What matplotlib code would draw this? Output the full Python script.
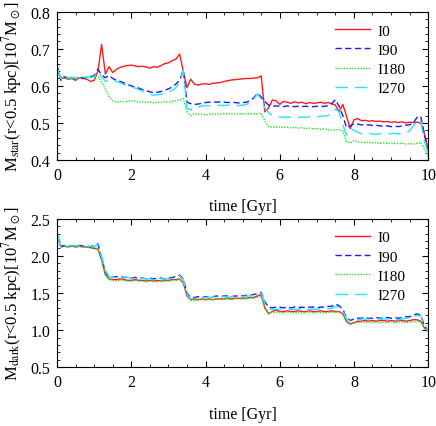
import numpy as np
import matplotlib
matplotlib.use("Agg")
import matplotlib.pyplot as plt
from matplotlib.ticker import MultipleLocator, FormatStrFormatter

plt.rcParams['font.family'] = ['Liberation Serif', 'DejaVu Serif']
plt.rcParams['mathtext.fontset'] = 'stix'

# sampling grid (Gyr), 0.1 Gyr steps
time_gyr = np.linspace(0.0, 10.0, 101)
labels = ['I0', 'I90', 'I180', 'I270']

# stellar mass within 0.5 kpc [1e7 Msun]
mstar_i0 = [
    0.650, 0.620, 0.622, 0.618, 0.620, 0.615, 0.622, 0.620, 0.618, 0.612,
    0.615, 0.640, 0.712, 0.632, 0.652, 0.636, 0.645, 0.650, 0.653, 0.655,
    0.656, 0.654, 0.652, 0.653, 0.651, 0.648, 0.652, 0.650, 0.655, 0.660,
    0.662, 0.668, 0.672, 0.686, 0.640, 0.595, 0.618, 0.605, 0.602, 0.605,
    0.606, 0.604, 0.607, 0.608, 0.609, 0.612, 0.614, 0.616, 0.617, 0.618,
    0.619, 0.620, 0.620, 0.621, 0.622, 0.627, 0.530, 0.540, 0.562, 0.560,
    0.550, 0.558, 0.556, 0.553, 0.557, 0.554, 0.556, 0.552, 0.555, 0.553,
    0.554, 0.556, 0.553, 0.555, 0.552, 0.548, 0.530, 0.550, 0.518, 0.485,
    0.508, 0.512, 0.506, 0.507, 0.505, 0.506, 0.504, 0.505, 0.503, 0.504,
    0.502, 0.503, 0.501, 0.503, 0.500, 0.502, 0.501, 0.502, 0.500, 0.470,
    0.430]
mstar_i90 = [
    0.655, 0.615, 0.625, 0.620, 0.622, 0.618, 0.625, 0.620, 0.623, 0.625,
    0.628, 0.645, 0.630, 0.622, 0.628, 0.620, 0.615, 0.612, 0.608, 0.604,
    0.600, 0.597, 0.594, 0.590, 0.587, 0.584, 0.582, 0.583, 0.585, 0.588,
    0.592, 0.597, 0.605, 0.615, 0.642, 0.556, 0.552, 0.550, 0.551, 0.553,
    0.555, 0.556, 0.557, 0.556, 0.557, 0.556, 0.555, 0.556, 0.555, 0.554,
    0.555, 0.556, 0.560, 0.568, 0.580, 0.570, 0.558, 0.548, 0.545, 0.546,
    0.545, 0.544, 0.546, 0.545, 0.544, 0.545, 0.544, 0.545, 0.544, 0.544,
    0.545, 0.544, 0.545, 0.546, 0.552, 0.563, 0.545, 0.520, 0.487, 0.492,
    0.498, 0.497, 0.495, 0.494, 0.495, 0.493, 0.494, 0.492, 0.491, 0.492,
    0.490, 0.491, 0.490, 0.492, 0.494, 0.495, 0.500, 0.515, 0.518, 0.470,
    0.420]
mstar_i180 = [
    0.630, 0.620, 0.626, 0.622, 0.620, 0.624, 0.621, 0.625, 0.622, 0.626,
    0.625, 0.625, 0.610, 0.592, 0.572, 0.560, 0.556, 0.558, 0.557, 0.558,
    0.560, 0.559, 0.556, 0.558, 0.555, 0.557, 0.554, 0.556, 0.555, 0.557,
    0.556, 0.558, 0.560, 0.562, 0.566, 0.530, 0.520, 0.525, 0.523, 0.524,
    0.522, 0.523, 0.524, 0.523, 0.524, 0.525, 0.524, 0.525, 0.524, 0.524,
    0.525, 0.524, 0.525, 0.524, 0.525, 0.526, 0.505, 0.490, 0.488, 0.489,
    0.489, 0.488, 0.489, 0.487, 0.488, 0.486, 0.487, 0.485, 0.486, 0.484,
    0.485, 0.483, 0.484, 0.482, 0.480, 0.481, 0.482, 0.478, 0.450, 0.446,
    0.452, 0.449, 0.448, 0.447, 0.448, 0.446, 0.447, 0.445, 0.446, 0.445,
    0.444, 0.445, 0.444, 0.445, 0.443, 0.444, 0.443, 0.445, 0.448, 0.430,
    0.410]
mstar_i270 = [
    0.650, 0.620, 0.628, 0.620, 0.624, 0.619, 0.622, 0.620, 0.624, 0.622,
    0.625, 0.640, 0.625, 0.612, 0.618, 0.616, 0.612, 0.608, 0.604, 0.600,
    0.598, 0.594, 0.590, 0.586, 0.582, 0.578, 0.575, 0.576, 0.578, 0.580,
    0.583, 0.588, 0.595, 0.610, 0.642, 0.540, 0.535, 0.545, 0.543, 0.546,
    0.547, 0.546, 0.548, 0.547, 0.548, 0.547, 0.548, 0.547, 0.548, 0.547,
    0.548, 0.550, 0.555, 0.565, 0.578, 0.565, 0.540, 0.528, 0.520, 0.517,
    0.516, 0.515, 0.516, 0.515, 0.516, 0.515, 0.516, 0.515, 0.517, 0.518,
    0.517, 0.518, 0.519, 0.520, 0.527, 0.537, 0.530, 0.495, 0.467, 0.486,
    0.480, 0.475, 0.471, 0.470, 0.472, 0.470, 0.469, 0.471, 0.470, 0.470,
    0.471, 0.472, 0.470, 0.472, 0.473, 0.478, 0.492, 0.508, 0.505, 0.450,
    0.420]

# dark matter mass within 0.5 kpc [1e7 Msun]
mdark_i0 = [
    2.28, 2.12, 2.13, 2.12, 2.13, 2.12, 2.13, 2.12, 2.12, 2.11,
    2.10, 2.09, 1.95, 1.75, 1.69, 1.68, 1.68, 1.69, 1.68, 1.67,
    1.67, 1.68, 1.67, 1.67, 1.66, 1.67, 1.66, 1.67, 1.66, 1.67,
    1.67, 1.68, 1.68, 1.69, 1.64, 1.46, 1.41, 1.42, 1.41, 1.42,
    1.41, 1.42, 1.41, 1.42, 1.42, 1.42, 1.43, 1.42, 1.43, 1.43,
    1.43, 1.43, 1.44, 1.44, 1.46, 1.48, 1.30, 1.22, 1.25, 1.27,
    1.25, 1.25, 1.26, 1.25, 1.25, 1.26, 1.25, 1.25, 1.26, 1.25,
    1.25, 1.26, 1.25, 1.25, 1.26, 1.25, 1.25, 1.22, 1.12, 1.08,
    1.10, 1.12, 1.12, 1.13, 1.12, 1.13, 1.12, 1.13, 1.13, 1.12,
    1.13, 1.12, 1.13, 1.13, 1.12, 1.13, 1.14, 1.14, 1.12, 1.03,
    0.99]
mdark_i90 = [
    2.28, 2.13, 2.14, 2.13, 2.14, 2.13, 2.14, 2.13, 2.13, 2.12,
    2.14, 2.16, 1.97, 1.78, 1.72, 1.71, 1.72, 1.72, 1.71, 1.71,
    1.70, 1.71, 1.70, 1.70, 1.69, 1.70, 1.69, 1.70, 1.70, 1.69,
    1.70, 1.71, 1.72, 1.74, 1.69, 1.50, 1.44, 1.44, 1.45, 1.44,
    1.45, 1.44, 1.45, 1.46, 1.45, 1.46, 1.46, 1.45, 1.46, 1.46,
    1.46, 1.47, 1.47, 1.48, 1.49, 1.51, 1.38, 1.31, 1.30, 1.31,
    1.31, 1.30, 1.31, 1.30, 1.31, 1.30, 1.31, 1.30, 1.31, 1.31,
    1.30, 1.31, 1.31, 1.32, 1.32, 1.35, 1.33, 1.28, 1.17, 1.13,
    1.15, 1.16, 1.16, 1.17, 1.16, 1.16, 1.17, 1.16, 1.16, 1.17,
    1.16, 1.17, 1.16, 1.17, 1.18, 1.18, 1.20, 1.22, 1.20, 1.06,
    0.99]
mdark_i180 = [
    2.26, 2.12, 2.13, 2.12, 2.13, 2.12, 2.12, 2.13, 2.12, 2.11,
    2.11, 2.10, 1.93, 1.74, 1.68, 1.67, 1.66, 1.67, 1.67, 1.66,
    1.66, 1.67, 1.66, 1.66, 1.65, 1.66, 1.66, 1.65, 1.66, 1.66,
    1.66, 1.67, 1.67, 1.68, 1.64, 1.47, 1.40, 1.40, 1.41, 1.41,
    1.41, 1.41, 1.41, 1.42, 1.41, 1.42, 1.42, 1.41, 1.42, 1.42,
    1.42, 1.42, 1.43, 1.43, 1.44, 1.45, 1.29, 1.23, 1.24, 1.24,
    1.24, 1.23, 1.24, 1.24, 1.23, 1.24, 1.23, 1.24, 1.24, 1.23,
    1.24, 1.24, 1.23, 1.24, 1.24, 1.24, 1.25, 1.21, 1.10, 1.09,
    1.10, 1.10, 1.11, 1.10, 1.11, 1.10, 1.11, 1.10, 1.11, 1.10,
    1.11, 1.10, 1.11, 1.11, 1.10, 1.11, 1.11, 1.12, 1.11, 1.02,
    0.98]
mdark_i270 = [
    2.29, 2.13, 2.14, 2.13, 2.14, 2.14, 2.13, 2.14, 2.13, 2.13,
    2.13, 2.15, 1.99, 1.80, 1.72, 1.71, 1.71, 1.72, 1.70, 1.71,
    1.70, 1.70, 1.69, 1.70, 1.69, 1.69, 1.68, 1.69, 1.69, 1.69,
    1.69, 1.70, 1.71, 1.73, 1.68, 1.49, 1.42, 1.43, 1.43, 1.44,
    1.44, 1.44, 1.45, 1.44, 1.45, 1.45, 1.44, 1.45, 1.45, 1.45,
    1.45, 1.46, 1.46, 1.47, 1.48, 1.50, 1.36, 1.29, 1.28, 1.28,
    1.28, 1.29, 1.28, 1.28, 1.28, 1.28, 1.29, 1.28, 1.28, 1.28,
    1.28, 1.29, 1.28, 1.29, 1.29, 1.32, 1.31, 1.27, 1.15, 1.12,
    1.13, 1.14, 1.15, 1.15, 1.15, 1.14, 1.15, 1.15, 1.15, 1.15,
    1.15, 1.15, 1.14, 1.15, 1.16, 1.16, 1.18, 1.20, 1.19, 1.04,
    0.99]

styles = [
    dict(color='#ff1a1a', linestyle='-'),
    dict(color='#1a1aff', linestyle=(0, (4.5, 2.5))),
    dict(color='#22e622', linestyle=(0, (1, 1))),
    dict(color='#22e6ff', linestyle=(0, (9, 5))),
]


def style_axis(ax, ylim, ymajor, yminor):
    ax.set_xlim(0, 10)
    ax.set_ylim(*ylim)
    ax.xaxis.set_major_locator(MultipleLocator(2))
    ax.xaxis.set_minor_locator(MultipleLocator(0.5))
    ax.yaxis.set_major_locator(MultipleLocator(ymajor))
    ax.yaxis.set_minor_locator(MultipleLocator(yminor))
    ax.yaxis.set_major_formatter(FormatStrFormatter('%.1f'))
    ax.tick_params(which='both', direction='in', top=True, right=True, labelsize=11.5)
    ax.tick_params(which='major', length=4.5, pad=5)
    ax.tick_params(which='minor', length=2.2)
    ax.set_xlabel('time [Gyr]', fontsize=11.5, labelpad=11)
    ax.legend(loc='upper right', frameon=False, fontsize=11, handlelength=2.3,
              handletextpad=0.5, labelspacing=0.36, borderaxespad=0.0,
              bbox_to_anchor=(0.955, 0.96))


fig = plt.figure(figsize=(4.36, 4.27), dpi=100)
ax1 = fig.add_axes([0.131, 0.623, 0.851, 0.347])
ax2 = fig.add_axes([0.131, 0.1375, 0.851, 0.348])

for series, lab, st in zip([mstar_i0, mstar_i90, mstar_i180, mstar_i270], labels, styles):
    ax1.plot(time_gyr, series, lw=1.0, label=lab, **st)
for series, lab, st in zip([mdark_i0, mdark_i90, mdark_i180, mdark_i270], labels, styles):
    ax2.plot(time_gyr, series, lw=1.0, label=lab, **st)

style_axis(ax1, (0.4, 0.8), 0.1, 0.02)
style_axis(ax2, (0.5, 2.5), 0.5, 0.1)

ax1.set_ylabel(r'M$_{\rm star}$(r<0.5 kpc)[10$^7$M$_\odot$]', fontsize=12)
ax2.set_ylabel(r'M$_{\rm dark}$(r<0.5 kpc)[10$^7$M$_\odot$]', fontsize=12)
ax1.yaxis.set_label_coords(-0.09, 0.5)
ax2.yaxis.set_label_coords(-0.09, 0.5)

fig.savefig('out.png', dpi=100)
